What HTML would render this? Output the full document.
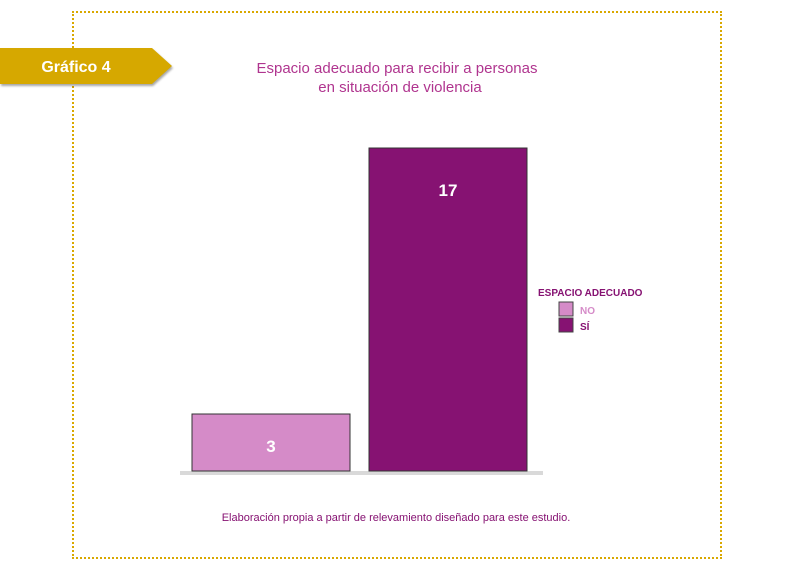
<!DOCTYPE html>
<html><head><meta charset="utf-8"><style>
body{margin:0;width:793px;height:578px;background:#fff;position:relative;font-family:"Liberation Sans",sans-serif;overflow:hidden}
.frame{position:absolute;left:72px;top:11px;width:646px;height:544px;border:2px dotted #d9a800}
</style></head><body>
<div class="frame"></div>
<svg width="793" height="578" style="position:absolute;left:0;top:0">
<polygon points="0,48 152,48 172,66 152,84 0,84" fill="#d6a800" style="filter:drop-shadow(1px 2px 1px rgba(0,0,0,0.35))"/>
<text x="76" y="72" text-anchor="middle" font-size="16" font-weight="bold" fill="#fff">Gráfico 4</text>
<text x="397" y="73" text-anchor="middle" font-size="15" fill="#b0358f">Espacio adecuado para recibir a personas</text>
<text x="400" y="92" text-anchor="middle" font-size="15" fill="#b0358f">en situación de violencia</text>
<rect x="180" y="471" width="363" height="4" fill="#d9d9d9"/>
<g id="bars"></g>
<text x="538" y="296" font-size="10" font-weight="bold" fill="#861272">ESPACIO ADECUADO</text>
<rect x="559" y="302" width="14" height="14" fill="#d58bc8" stroke="#444" stroke-width="1"/>
<text x="580" y="314" font-size="10" font-weight="bold" fill="#d58bc8">NO</text>
<rect x="559" y="318" width="14" height="14" fill="#861272" stroke="#444" stroke-width="1"/>
<text x="580" y="330" font-size="10" font-weight="bold" fill="#861272">SÍ</text>
<text x="396" y="521" text-anchor="middle" font-size="11" fill="#861272">Elaboración propia a partir de relevamiento diseñado para este estudio.</text>
</svg>
<script>
const categories=["NO","SÍ"];
const values=[3,17];
const colors=["#d58bc8","#861272"];
const base=471, unit=19, x0=192, bw=158, gap=19;
const y=v=>base-v*unit;
const g=document.getElementById('bars');
const ns="http://www.w3.org/2000/svg";
categories.forEach((c,i)=>{
 const r=document.createElementNS(ns,'rect');
 
 
 const x=x0+i*(bw+gap);
 r.setAttribute('x',x);r.setAttribute('y',y(values[i]));
 r.setAttribute('width',bw);r.setAttribute('height',base-y(values[i]));
 r.setAttribute('fill',colors[i]);r.setAttribute('stroke','#333');r.setAttribute('stroke-width','1');
 g.appendChild(r);
 const t=document.createElementNS(ns,'text');
 
 
 t.setAttribute('x',x+bw/2);t.setAttribute('y',y(values[i])+(values[i]>10?48:38));
 t.setAttribute('text-anchor','middle');t.setAttribute('font-size','17');t.setAttribute('font-weight','bold');t.setAttribute('fill','#fff');
 t.textContent=values[i];
 g.appendChild(t);
});
</script>
</body></html>
